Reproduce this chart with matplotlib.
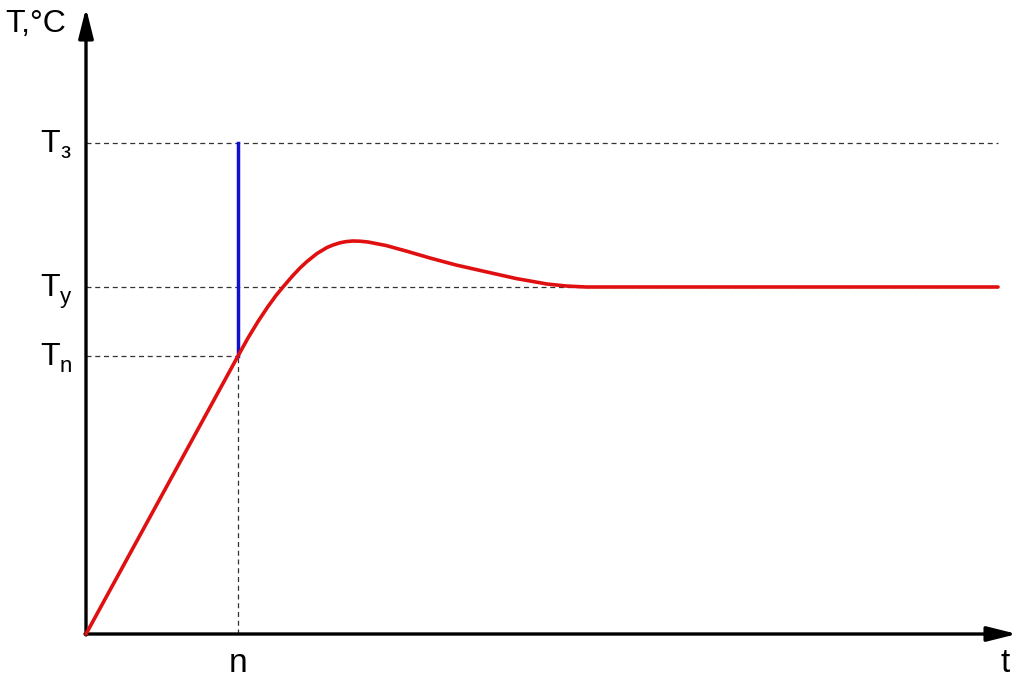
import numpy as np
import matplotlib.pyplot as plt

plt.rcParams['font.family'] = ['Liberation Sans', 'DejaVu Sans']

# coordinates in pixels relative to origin of the axes (x right, y up)
curve_x = [0, 152, 162, 172, 182, 190, 197, 206, 214, 221, 231, 241, 247, 254, 260, 267, 274, 282, 300, 320, 344, 370, 401, 430, 461, 480, 500, 912]
curve_y = [0, 278, 296, 312.5, 327.5, 338.5, 347, 357.5, 366, 372.5, 380.5, 386.5, 389, 391.2, 392.4, 393, 392.8, 392, 388.5, 383, 376, 369, 362, 355.5, 350, 348, 347, 347]

n_x = 152
T_levels = {'з': 491, 'y': 347, 'n': 278}
x_end = 912
x_axis_len = 931
y_axis_len = 626

fig = plt.figure(figsize=(10.24, 6.83), dpi=100)
ax = fig.add_axes([0, 0, 1, 1])
ax.set_xlim(-86, 938)
ax.set_ylim(-49, 634)
ax.axis('off')

dash = dict(color='#333333', lw=0.9, ls=(0, (4, 3)))
ax.plot([0, x_end], [T_levels['з']] * 2, **dash)
ax.plot([0, x_end], [T_levels['y']] * 2, **dash)
ax.plot([0, n_x], [T_levels['n']] * 2, **dash)
ax.plot([n_x, n_x], [0, T_levels['n']], **dash)

ax.plot([n_x, n_x], [T_levels['n'], T_levels['з']], color='#1010d0', lw=2.5, zorder=3)
ax.plot(curve_x, curve_y, color='#e01010', lw=2.6, zorder=4, solid_capstyle='round', solid_joinstyle='round')

# axes with arrows
ax.annotate('', xy=(0, y_axis_len), xytext=(0, -1),
            arrowprops=dict(arrowstyle='-|>,head_length=1.8,head_width=0.45', color='black', lw=2.4, shrinkA=0, shrinkB=0))
ax.annotate('', xy=(x_axis_len, 0), xytext=(-1, 0),
            arrowprops=dict(arrowstyle='-|>,head_length=1.8,head_width=0.45', color='black', lw=2.4, shrinkA=0, shrinkB=0))

ax.text(-81, 610, 'T,°C', fontsize=23, va='center', ha='left')
ax.text(x_axis_len - 12, -30, 't', fontsize=24, va='center', ha='center')
ax.text(n_x, -30, 'n', fontsize=24, va='center', ha='center')

for sub, lev in T_levels.items():
    ax.text(-26, lev - 1, 'T', fontsize=23, va='center', ha='right')
    ax.text(-26, lev - 10, sub, fontsize=16, va='center', ha='left')

fig.savefig('out.png', dpi=100)
